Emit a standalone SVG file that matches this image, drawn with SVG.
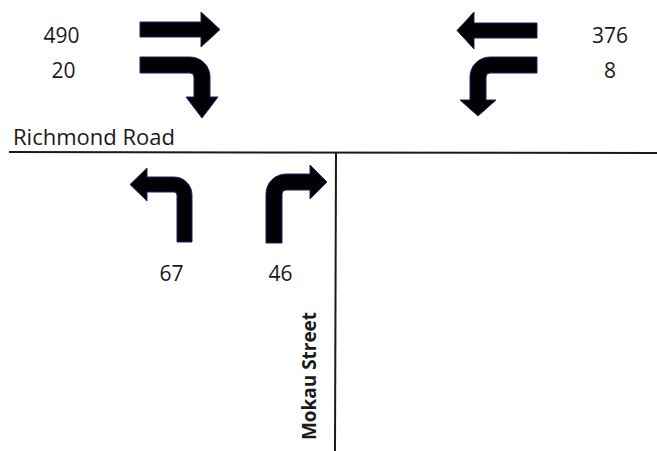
<svg xmlns="http://www.w3.org/2000/svg" width="657" height="451" viewBox="0 0 657 451">
<style>
.arrow{fill:#000005;stroke:#1c2660;stroke-width:1;stroke-linejoin:miter}
.num{font-family:"Open Sans","Liberation Sans",sans-serif;font-size:21px;fill:#1a1a1a}
.road{font-family:"Open Sans","Liberation Sans",sans-serif;font-size:21px;fill:#1a1a1a}
.street{font-family:"Open Sans","Liberation Sans",sans-serif;font-size:19.5px;font-weight:bold;fill:#1a1a1a}
.line{stroke:#1a1a1a;stroke-width:2;fill:none}
</style>
<rect width="657" height="451" fill="#ffffff"/>
<g id="roads">
<line class="line" x1="9" y1="152" x2="657" y2="153"/>
<line class="line" x1="336" y1="153" x2="335" y2="451"/>
<text class="road" x="13" y="145" textLength="162" lengthAdjust="spacingAndGlyphs">Richmond Road</text>
<text class="street" transform="translate(316,440) rotate(-90)" textLength="128" lengthAdjust="spacingAndGlyphs">Mokau Street</text>
</g>
<g id="west-through">
<path class="arrow" d="M140,22 H201 V12 L220,29.5 L201,47 V37 H140 Z"/>
<text class="num" x="61.5" y="43" text-anchor="middle">490</text>
</g>
<g id="west-right">
<path class="arrow" d="M140,57 H190 A20,20 0 0 1 210,77 V97 H218 L202,118 L186,97 H194 V77 A4,4 0 0 0 190,73 H140 Z"/>
<text class="num" x="63.5" y="78" text-anchor="middle">20</text>
</g>
<g id="east-through">
<path class="arrow" d="M537,23 H474 V12 L457,30.5 L474,49 V38 H537 Z"/>
<text class="num" x="610" y="43" text-anchor="middle">376</text>
</g>
<g id="east-left">
<path class="arrow" d="M537,57 H490 A20,20 0 0 0 470,77 V100 H460 L478,116 L496,100 H486 V77 A4,4 0 0 1 490,73 H537 Z"/>
<text class="num" x="610" y="78" text-anchor="middle">8</text>
</g>
<g id="south-left">
<path class="arrow" d="M177,242 V195 A3,3 0 0 0 174,192 H147 V201 L130,184.5 L147,168 V177 H174 A18,18 0 0 1 192,195 V242 Z"/>
<text class="num" x="171.5" y="281" text-anchor="middle">67</text>
</g>
<g id="south-right">
<path class="arrow" d="M266,243 V194 A20,20 0 0 1 286,174 H310 V165 L327,182 L310,199 V190 H286 A4,4 0 0 0 282,194 V243 Z"/>
<text class="num" x="280.5" y="281" text-anchor="middle">46</text>
</g>
<g id="connectors"></g>
</svg>
